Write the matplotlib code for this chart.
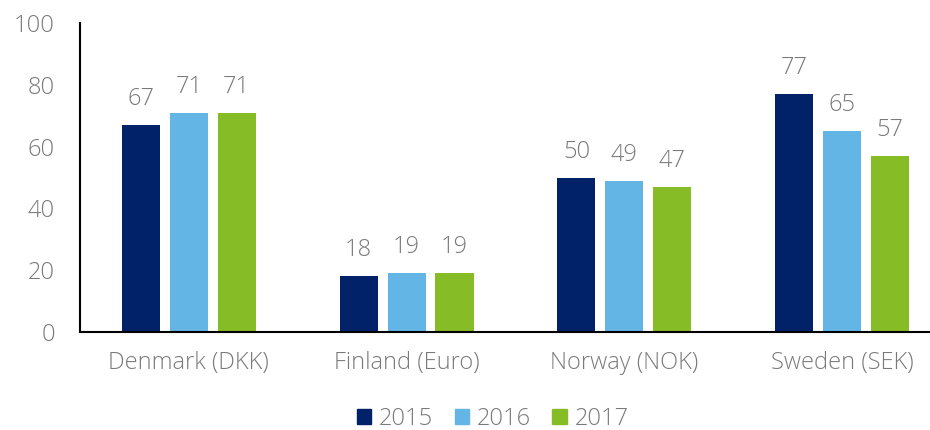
import numpy as np
import matplotlib
matplotlib.use("Agg")
import matplotlib.pyplot as plt
from matplotlib.patches import Patch

plt.rcParams['font.family'] = ['Open Sans', 'DejaVu Sans']

# Data
categories = ['Denmark (DKK)', 'Finland (Euro)', 'Norway (NOK)', 'Sweden (SEK)']
years = ['2015', '2016', '2017']
values_2015 = [67, 18, 50, 77]
values_2016 = [71, 19, 49, 65]
values_2017 = [71, 19, 47, 57]

colors = ['#012169', '#62B5E5', '#86BC25']
text_color = '#7a7a7a'

fig = plt.figure(figsize=(9.3, 4.3), dpi=100)
ax = fig.add_axes([0.086, 0.228, 0.914, 0.718])

x = np.arange(len(categories))
width = 0.175
offset = 0.22

for i, (vals, col) in enumerate(zip([values_2015, values_2016, values_2017], colors)):
    bars = ax.bar(x + (i - 1) * offset, vals, width, color=col)
    for b, v in zip(bars, vals):
        ax.text(b.get_x() + b.get_width() / 2, v + 4.5, str(v),
                ha='center', va='bottom', fontsize=17, color=text_color,
                fontweight='light')

ax.set_xlim(-0.5, 3.404)
ax.set_ylim(0, 100)
ax.set_yticks([0, 20, 40, 60, 80, 100])
ax.set_xticks(x)
ax.set_xticklabels(categories)
for s in ['top', 'right']:
    ax.spines[s].set_visible(False)
ax.spines['left'].set_linewidth(1.5)
ax.spines['bottom'].set_linewidth(1.5)
ax.tick_params(axis='both', length=0, labelsize=17, labelcolor=text_color)
ax.tick_params(axis='y', pad=18)
ax.tick_params(axis='x', pad=14)
for lab in ax.get_xticklabels() + ax.get_yticklabels():
    lab.set_fontweight('light')

handles = [Patch(color=c, label=y) for c, y in zip(colors, years)]
leg = fig.legend(handles=handles, loc='center', bbox_to_anchor=(0.53, 0.026),
                 ncol=3, frameon=False, fontsize=17, handlelength=0.6,
                 handleheight=0.6, handletextpad=0.35, columnspacing=0.9)
for t in leg.get_texts():
    t.set_color(text_color)
    t.set_fontweight('light')

fig.savefig('out.png', dpi=100)
